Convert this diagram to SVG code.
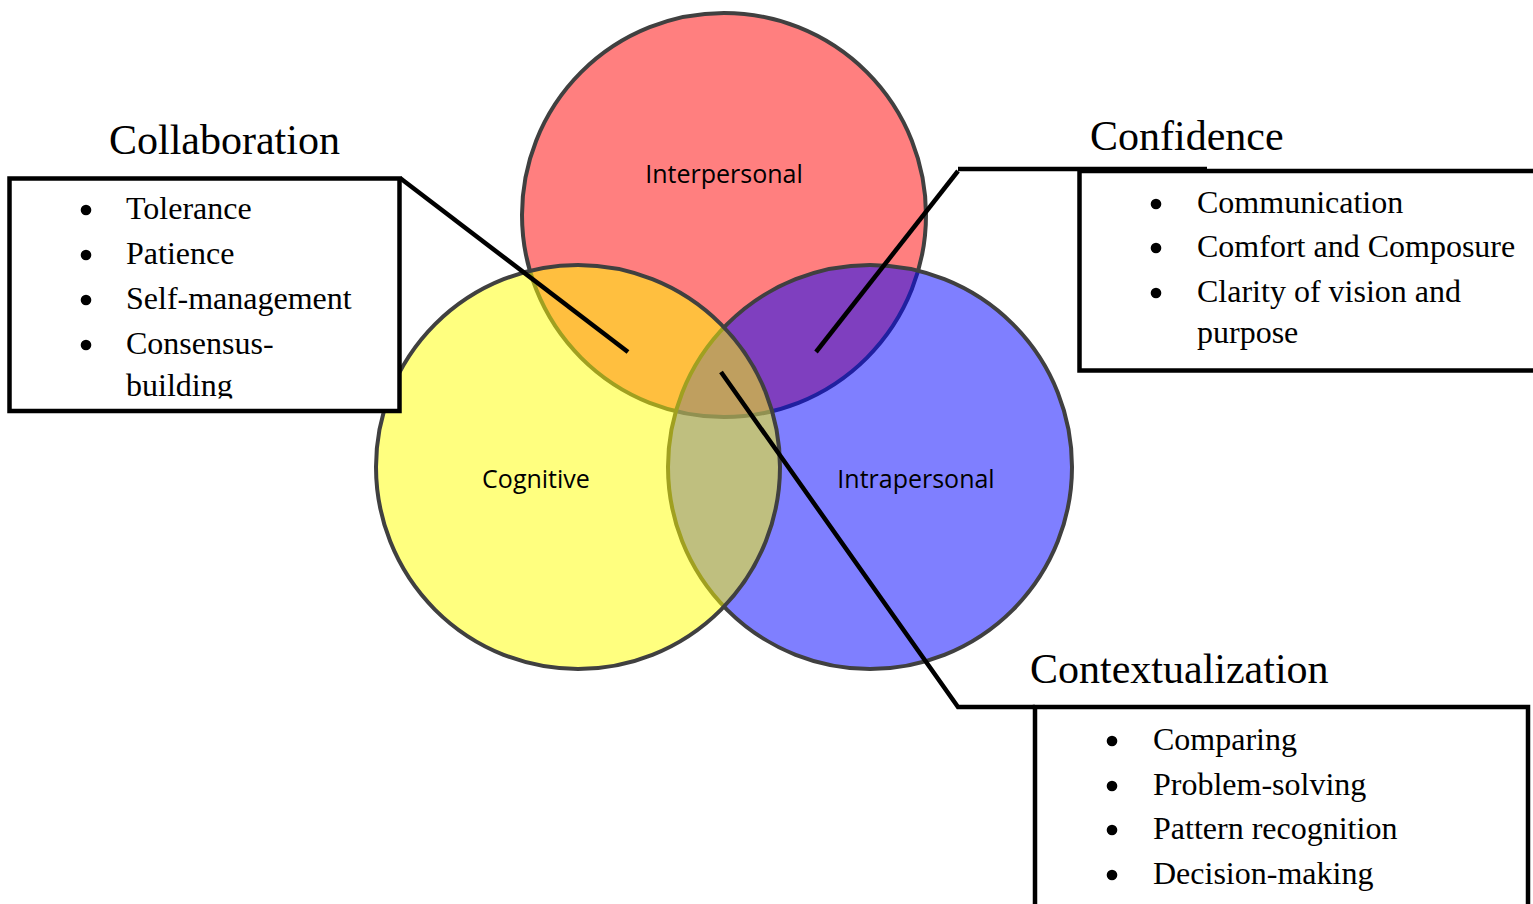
<svg xmlns="http://www.w3.org/2000/svg" width="1533" height="904" viewBox="0 0 1533 904">
<defs>
<style>
.circ{stroke:#404040;stroke-width:4;fill-opacity:0.5}
.clabel{font-family:"Open Sans","DejaVu Sans",sans-serif;font-size:25px;fill:#000;text-anchor:middle}
.title{font-family:"Liberation Serif","Times New Roman",serif;font-size:42px;fill:#000}
.item{font-family:"Liberation Serif","Times New Roman",serif;font-size:32px;fill:#000}
.box{fill:#fff;stroke:#000;stroke-width:4.5}
.conn{fill:none;stroke:#000;stroke-width:4.5}
.dot{fill:#000}
</style>
<clipPath id="clipCollab"><rect x="12" y="181" width="385" height="217.5"/></clipPath>
</defs>
<rect x="0" y="0" width="1533" height="904" fill="#fff"/>

<g id="interpersonal">
<circle class="circ" cx="724" cy="215" r="202" fill="#FF0000"/>
</g>
<g id="intrapersonal">
<circle class="circ" cx="870" cy="467" r="202" fill="#0000FF"/>
</g>
<g id="cognitive">
<circle class="circ" cx="578" cy="467" r="202" fill="#FFFF00"/>
</g>
<g id="circle-labels">
<text class="clabel" x="724" y="183">Interpersonal</text>
<text class="clabel" x="536" y="488">Cognitive</text>
<text class="clabel" x="916" y="488">Intrapersonal</text>
</g>

<g id="collaboration">
<text class="title" x="109" y="154">Collaboration</text>
<rect class="box" x="9.5" y="178.5" width="390" height="232.5"/>
<g clip-path="url(#clipCollab)">
<circle class="dot" cx="86" cy="210" r="5.3"/>
<circle class="dot" cx="86" cy="255" r="5.3"/>
<circle class="dot" cx="86" cy="300" r="5.3"/>
<circle class="dot" cx="86" cy="345" r="5.3"/>
<text class="item" x="126" y="219">Tolerance</text>
<text class="item" x="126" y="264">Patience</text>
<text class="item" x="126" y="309">Self-management</text>
<text class="item" x="126" y="354">Consensus-</text>
<text class="item" x="126" y="396">building</text>
</g>
</g>

<g id="confidence">
<text class="title" x="1090" y="150">Confidence</text>
<rect class="box" x="1079.5" y="171" width="470" height="199.5"/>
<circle class="dot" cx="1156" cy="204" r="5.3"/>
<circle class="dot" cx="1156" cy="248" r="5.3"/>
<circle class="dot" cx="1156" cy="293" r="5.3"/>
<text class="item" x="1197" y="213">Communication</text>
<text class="item" x="1197" y="257">Comfort and Composure</text>
<text class="item" x="1197" y="302">Clarity of vision and</text>
<text class="item" x="1197" y="343">purpose</text>
</g>

<g id="contextualization">
<text class="title" x="1030" y="683">Contextualization</text>
<rect class="box" x="1035" y="707" width="493" height="220"/>
<circle class="dot" cx="1112" cy="741" r="5.3"/>
<circle class="dot" cx="1112" cy="786" r="5.3"/>
<circle class="dot" cx="1112" cy="830" r="5.3"/>
<circle class="dot" cx="1112" cy="875" r="5.3"/>
<text class="item" x="1153" y="750">Comparing</text>
<text class="item" x="1153" y="795">Problem-solving</text>
<text class="item" x="1153" y="839">Pattern recognition</text>
<text class="item" x="1153" y="884">Decision-making</text>
</g>

<g id="connectors">
<polyline class="conn" points="400,178 628,352"/>
<polyline class="conn" points="816,352 958,171"/>
<polyline class="conn" points="958,169 1207,169"/>
<polyline class="conn" points="721,372 958,707 1035,707"/>
</g>
</svg>
